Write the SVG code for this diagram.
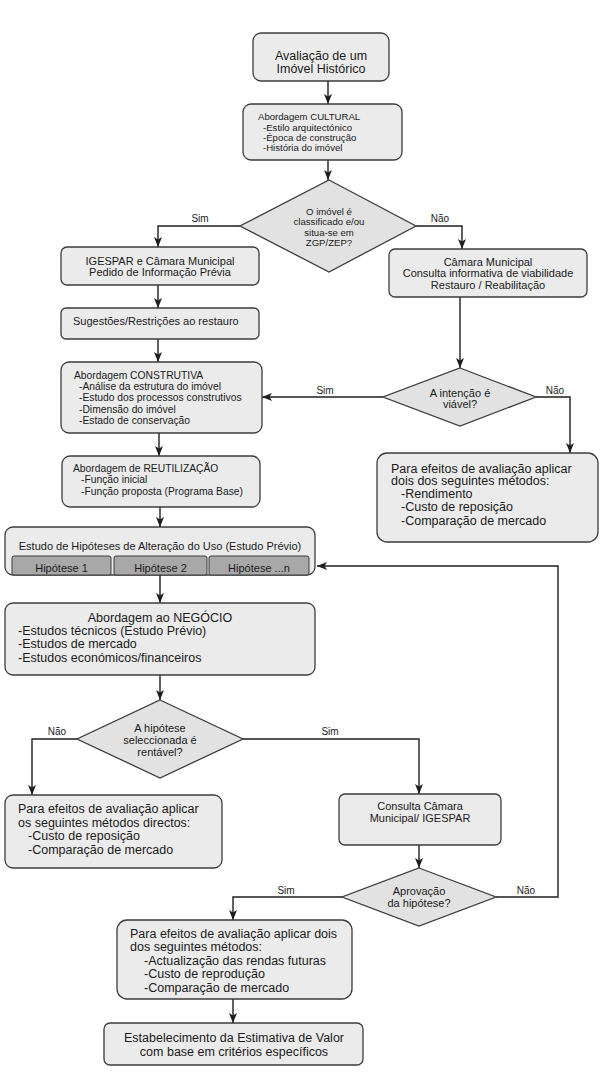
<svg xmlns="http://www.w3.org/2000/svg" width="603" height="1073" viewBox="0 0 603 1073">
<style>
.box{fill:#ebebeb;stroke:#3c3c3c;stroke-width:1.3}
.dia{fill:#e2e2e2;stroke:#3c3c3c;stroke-width:1.3}
.sub{fill:#a8a8a8;stroke:#3c3c3c;stroke-width:1}
.con{fill:none;stroke:#1e1e1e;stroke-width:1.4}
.arr{marker-end:url(#ah)}
text{font-family:"Liberation Sans",Arial,sans-serif;fill:#1a1a1a}
.c{text-anchor:middle}
.t125{font-size:12.5px}
.t11{font-size:11px}
.t10{font-size:10.3px}
.t96{font-size:9.6px}
.lbl{font-size:10px}
</style>
<defs>
<marker id="ah" markerUnits="userSpaceOnUse" markerWidth="10" markerHeight="8" refX="10" refY="4" orient="auto">
<path d="M0,0 L10,4 L0,8 L2.5,4 z" fill="#1e1e1e"/>
</marker>
</defs>

<g id="connectors">
<line class="con arr" x1="328" y1="81" x2="328" y2="104"/>
<line class="con arr" x1="328" y1="160" x2="328" y2="180"/>
<polyline class="con arr" points="240,226 158,226 158,247"/>
<text class="lbl c" x="200" y="222">Sim</text>
<polyline class="con arr" points="416,226 462,226 462,249"/>
<text class="lbl c" x="440" y="222">Não</text>
<line class="con arr" x1="158" y1="285" x2="158" y2="308"/>
<line class="con arr" x1="158" y1="339" x2="158" y2="362"/>
<line class="con arr" x1="460" y1="297" x2="460" y2="368"/>
<line class="con arr" x1="383" y1="397" x2="262" y2="397"/>
<text class="lbl c" x="325" y="394">Sim</text>
<polyline class="con arr" points="536,397 570,397 570,453"/>
<text class="lbl c" x="555" y="394">Não</text>
<line class="con arr" x1="159" y1="433" x2="159" y2="456"/>
<line class="con arr" x1="160" y1="507" x2="160" y2="527"/>
<line class="con arr" x1="160" y1="575" x2="160" y2="603"/>
<line class="con arr" x1="160" y1="675" x2="160" y2="700"/>
<polyline class="con arr" points="77,739 32,739 32,795"/>
<text class="lbl c" x="57" y="735">Não</text>
<polyline class="con arr" points="243,739 419,739 419,794"/>
<text class="lbl c" x="330" y="735">Sim</text>
<line class="con arr" x1="419" y1="845" x2="419" y2="868"/>
<polyline class="con arr" points="496,897 558,897 558,566 317,566"/>
<text class="lbl c" x="526" y="894">Não</text>
<polyline class="con arr" points="342,897 233,897 233,920"/>
<text class="lbl c" x="286" y="894">Sim</text>
<line class="con arr" x1="233" y1="999" x2="233" y2="1023"/>
</g>

<g id="n-avaliacao">
<rect class="box" x="253" y="33" width="136" height="48" rx="8"/>
<text class="t125 c" x="321" y="59.5">Avaliação de um</text>
<text class="t125 c" x="321" y="72.5">Imóvel Histórico</text>
</g>

<g id="n-cultural">
<rect class="box" x="243" y="104" width="159" height="56" rx="8"/>
<text class="t96" x="258" y="119.5">Abordagem CULTURAL</text>
<text class="t96" x="263" y="130.5">-Estilo arquitectónico</text>
<text class="t96" x="263" y="140.5">-Época de construção</text>
<text class="t96" x="263" y="150.5">-História do imóvel</text>
</g>

<g id="n-classificado">
<polygon class="dia" points="329,180 416,226 329,272 240,226"/>
<text class="t96 c" x="329" y="215">O imóvel é</text>
<text class="t96 c" x="329" y="225.3">classificado e/ou</text>
<text class="t96 c" x="329" y="235.5">situa-se em</text>
<text class="t96 c" x="329" y="245.7">ZGP/ZEP?</text>
</g>

<g id="n-igespar">
<rect class="box" x="61" y="247" width="198" height="38" rx="6"/>
<text class="t11 c" x="160" y="264.5">IGESPAR e Câmara Municipal</text>
<text class="t11 c" x="160" y="276">Pedido de Informação Prévia</text>
</g>

<g id="n-sugestoes">
<rect class="box" x="61" y="308" width="198" height="31" rx="5"/>
<text class="t11" x="73" y="324.5">Sugestões/Restrições ao restauro</text>
</g>

<g id="n-camara">
<rect class="box" x="389" y="249" width="198" height="48" rx="6"/>
<text class="t11 c" x="488" y="266">Câmara Municipal</text>
<text class="t11 c" x="488" y="277">Consulta informativa de viabilidade</text>
<text class="t11 c" x="488" y="289">Restauro / Reabilitação</text>
</g>

<g id="n-intencao">
<polygon class="dia" points="460,368 536,397 460,426 383,397"/>
<text class="t11 c" x="460" y="397">A intenção é</text>
<text class="t11 c" x="460" y="407.5">viável?</text>
</g>

<g id="n-construtiva">
<rect class="box" x="61" y="362" width="201" height="71" rx="8"/>
<text class="t10" x="74" y="378.5">Abordagem CONSTRUTIVA</text>
<text class="t10" x="79" y="390">-Análise da estrutura do imóvel</text>
<text class="t10" x="79" y="401.3">-Estudo dos processos construtivos</text>
<text class="t10" x="79" y="412.6">-Dimensão do imóvel</text>
<text class="t10" x="79" y="424">-Estado de conservação</text>
</g>

<g id="n-reutilizacao">
<rect class="box" x="62" y="456" width="198" height="51" rx="8"/>
<text class="t10" x="73" y="471.5">Abordagem de REUTILIZAÇÃO</text>
<text class="t10" x="81" y="483">-Função inicial</text>
<text class="t10" x="81" y="494.5">-Função proposta (Programa Base)</text>
</g>

<g id="n-metodos-dois-a">
<rect class="box" x="377" y="453" width="221" height="89" rx="10"/>
<text class="t125" x="391" y="472.5">Para efeitos de avaliação aplicar</text>
<text class="t125" x="391" y="485">dois dos seguintes métodos:</text>
<text class="t125" x="401" y="498">-Rendimento</text>
<text class="t125" x="401" y="511">-Custo de reposição</text>
<text class="t125" x="401" y="524.5">-Comparação de mercado</text>
</g>

<g id="n-hipoteses">
<rect class="box" x="5" y="527" width="310" height="48" rx="8"/>
<text class="t11 c" x="160" y="550">Estudo de Hipóteses de Alteração do Uso (Estudo Prévio)</text>
<rect class="sub" x="12" y="556" width="99" height="19" rx="2"/>
<rect class="sub" x="114" y="556" width="93" height="19" rx="2"/>
<rect class="sub" x="209" y="556" width="100" height="19" rx="2"/>
<text class="t11 c" x="61.5" y="572">Hipótese 1</text>
<text class="t11 c" x="160.5" y="572">Hipótese 2</text>
<text class="t11 c" x="259" y="572">Hipótese ...n</text>
</g>

<g id="n-negocio">
<rect class="box" x="5" y="603" width="310" height="72" rx="8"/>
<text class="t125 c" x="160" y="621.5">Abordagem ao NEGÓCIO</text>
<text class="t125" x="18" y="635">-Estudos técnicos (Estudo Prévio)</text>
<text class="t125" x="18" y="648">-Estudos de mercado</text>
<text class="t125" x="18" y="661.5">-Estudos económicos/financeiros</text>
</g>

<g id="n-rentavel">
<polygon class="dia" points="160,700 243,739 160,778 77,739"/>
<text class="t11 c" x="160" y="732">A hipótese</text>
<text class="t11 c" x="160" y="744">seleccionada é</text>
<text class="t11 c" x="160" y="755.5">rentável?</text>
</g>

<g id="n-metodos-directos">
<rect class="box" x="5" y="795" width="217" height="73" rx="8"/>
<text class="t125" x="18" y="813">Para efeitos de avaliação aplicar</text>
<text class="t125" x="18" y="826.5">os seguintes métodos directos:</text>
<text class="t125" x="28" y="840">-Custo de reposição</text>
<text class="t125" x="28" y="854">-Comparação de mercado</text>
</g>

<g id="n-consulta">
<rect class="box" x="339" y="794" width="162" height="51" rx="6"/>
<text class="t11 c" x="420" y="810">Consulta Câmara</text>
<text class="t11 c" x="420" y="822">Municipal/ IGESPAR</text>
</g>

<g id="n-aprovacao">
<polygon class="dia" points="419,868 496,897 419,926 342,897"/>
<text class="t11 c" x="419" y="895">Aprovação</text>
<text class="t11 c" x="419" y="907">da hipótese?</text>
</g>

<g id="n-metodos-dois-b">
<rect class="box" x="117" y="920" width="235" height="79" rx="10"/>
<text class="t125" x="130" y="938">Para efeitos de avaliação aplicar dois</text>
<text class="t125" x="130" y="951">dos seguintes métodos:</text>
<text class="t125" x="144" y="965">-Actualização das rendas futuras</text>
<text class="t125" x="144" y="978">-Custo de reprodução</text>
<text class="t125" x="144" y="992">-Comparação de mercado</text>
</g>

<g id="n-estimativa">
<rect class="box" x="104" y="1023" width="259" height="42" rx="6"/>
<text class="t125 c" x="234" y="1042">Estabelecimento da Estimativa de Valor</text>
<text class="t125 c" x="234" y="1056">com base em critérios específicos</text>
</g>
</svg>
